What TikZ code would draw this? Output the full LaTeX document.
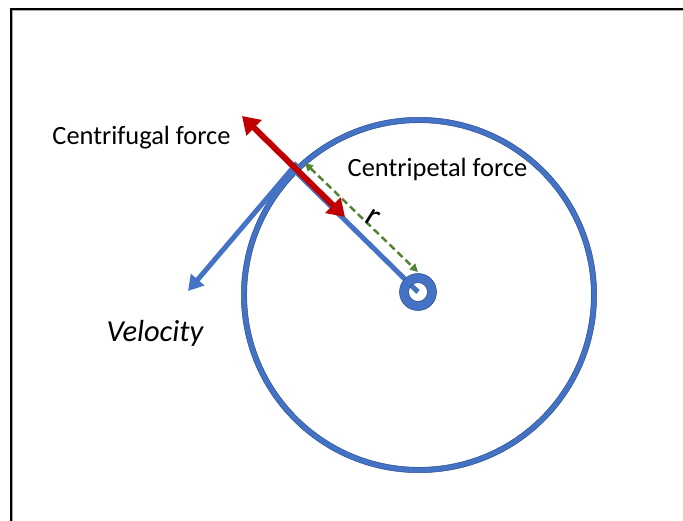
\documentclass[tikz,border=0pt]{standalone}
\usepackage{fontspec}
\setmainfont{Carlito}
\usetikzlibrary{arrows.meta}
\definecolor{ringblue}{HTML}{4472C4}
\definecolor{edgeblue}{HTML}{2F528F}
\definecolor{forcered}{HTML}{C00000}
\definecolor{radgreen}{HTML}{548235}
\tikzset{
  lbl/.style={font=\fontsize{26.4}{31}\selectfont, inner sep=0pt, anchor=base},
  redarrow/.style={draw=forcered, line width=6pt, {Triangle[length=17pt,width=21pt]}-{Triangle[length=17pt,width=21pt]}},
  velarrow/.style={draw=ringblue, line width=5pt, -{Triangle[length=15pt,width=17pt]}},
  radline/.style={draw=ringblue, line width=5pt},
  rarrow/.style={draw=radgreen, line width=2.5pt, dash pattern=on 7pt off 4pt, {Triangle[length=8pt,width=8pt]}-{Triangle[length=8pt,width=8pt]}},
}
\begin{document}
\begin{tikzpicture}[x=1pt,y=-1pt]
\useasboundingbox (0,0) rectangle (683,521);
% frame
\draw[gray!70, line width=1pt] (12.5,560) -- (12.5,10.5) -- (700,10.5);
\draw[black, line width=1.4pt] (11,560) -- (11,9) -- (700,9);
% big circle
\coordinate (O) at (419,295);
\draw[ringblue, line width=5.5pt] (O) circle[radius=175pt];
\draw[edgeblue, line width=0.5pt] (O) circle[radius=172.3pt] (O) circle[radius=177.7pt];
% points
\coordinate (P) at (292,168);
\coordinate (hubc) at (418,292);
\coordinate (vs) at (297,163);
\coordinate (vt) at (188,291);
\coordinate (ra) at (242,116);
\coordinate (rb) at (345,217);
\coordinate (ga) at (305,163);
\coordinate (gb) at (418,272);
% radius line
\draw[radline] (hubc) -- (P);
% velocity
\draw[velarrow] (vs) -- (vt);
% red arrow
\draw[redarrow] (ra) -- (rb);
% green dashed
\draw[rarrow] (ga) -- (gb);
% hub
\fill[ringblue, even odd rule] (hubc) circle[radius=18.5pt] (hubc) circle[radius=9.5pt];
\draw[edgeblue, line width=0.6pt] (hubc) circle[radius=18.5pt] (hubc) circle[radius=9.5pt];
\node[draw=none, inner sep=0pt, minimum size=37pt, circle] (hub) at (hubc) {};
% labels
\node[lbl] (cf) at (141.5,144.5) {Centrifugal force};
\node[lbl] (cp) at (437.5,177) {Centripetal force};
\node[lbl, font=\fontsize{30.5}{36}\selectfont\itshape] (vel) at (155,342) {Velocity};
\node[font=\fontsize{33}{38}\selectfont, inner sep=0pt, rotate=-32] (r) at (373,218) {r};
\end{tikzpicture}
\end{document}
